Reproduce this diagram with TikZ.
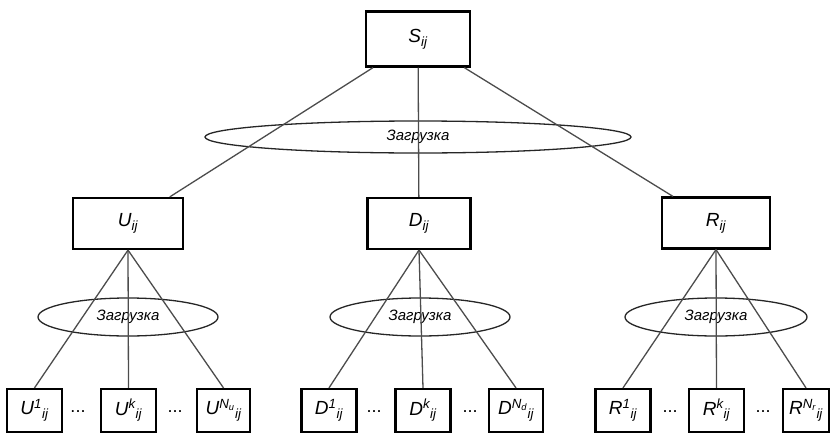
\documentclass[tikz,border=0pt]{standalone}
\usepackage{fontspec}
\setmainfont{Liberation Sans}
\usetikzlibrary{shapes.geometric}
\tikzset{
  lbl/.style={font=\fontsize{19}{19}\selectfont\itshape},
  topbox/.style={draw=black, line width=2.2pt, minimum width=104pt, minimum height=55pt, inner sep=0pt, lbl},
  leaf/.style={draw=black, line width=2.2pt, minimum width=55pt, minimum height=43pt, inner sep=0pt, lbl},
  loadell/.style={ellipse, draw=black!85, line width=1.3pt, inner sep=0pt, font=\fontsize{15}{15}\selectfont\itshape},
  link/.style={draw=black!70, line width=1.3pt},
  dots/.style={font=\fontsize{18}{18}\selectfont, inner sep=0pt}
}
\begin{document}
\begin{tikzpicture}[x=1pt,y=-1pt]
\useasboundingbox (0,0) rectangle (830,434);
% top
\node[topbox] (S) at (418,39) {S\textsubscript{ij}};
% middle
\node[topbox, minimum width=110pt, minimum height=51pt] (U) at (128,223.5) {U\textsubscript{ij}};
\node[topbox, minimum width=103pt, minimum height=51pt] (D) at (419,223.5) {D\textsubscript{ij}};
\node[topbox, minimum width=108pt, minimum height=51pt] (R) at (716,223) {R\textsubscript{ij}};
% ellipses
\node[loadell, minimum width=426pt, minimum height=32pt] (E0) at (418,137) {Загрузка};
\node[loadell, minimum width=180pt, minimum height=38pt] (EU) at (128,317) {Загрузка};
\node[loadell, minimum width=180pt, minimum height=38pt] (ED) at (420,317) {Загрузка};
\node[loadell, minimum width=182pt, minimum height=38pt] (ER) at (716,317) {Загрузка};
% leaves
\node[leaf] (U1) at (34.5,410.5) {U\textsuperscript{1}\textsubscript{ij}};
\node[leaf] (Uk) at (128.5,410.5) {U\textsuperscript{k}\textsubscript{ij}};
\node[leaf, minimum width=53pt] (UN) at (223.5,410.5) {U\textsuperscript{N\textsubscript{u}}\textsubscript{ij}};
\node[leaf] (D1) at (329,410.5) {D\textsuperscript{1}\textsubscript{ij}};
\node[leaf] (Dk) at (423,410.5) {D\textsuperscript{k}\textsubscript{ij}};
\node[leaf, minimum width=54pt] (DN) at (516,410.5) {D\textsuperscript{N\textsubscript{d}}\textsubscript{ij}};
\node[leaf] (R1) at (623,410.5) {R\textsuperscript{1}\textsubscript{ij}};
\node[leaf] (Rk) at (716.5,410.5) {R\textsuperscript{k}\textsubscript{ij}};
\node[leaf, minimum width=46pt] (RN) at (806,410.5) {R\textsuperscript{N\textsubscript{r}}\textsubscript{ij}};
% dots
\node[dots] (d1) at (78,412) {...};
\node[dots] (d2) at (175,412) {...};
\node[dots] (d3) at (374,412) {...};
\node[dots] (d4) at (470,412) {...};
\node[dots] (d5) at (670,412) {...};
\node[dots] (d6) at (763,412) {...};
% links
\draw[link] (S) -- (U);
\draw[link] (S) -- (D);
\draw[link] (S) -- (R);
\foreach \p in {U,D,R}{
  \draw[link] (\p.south) -- (\p1.north);
  \draw[link] (\p.south) -- (\p k.north);
  \draw[link] (\p.south) -- (\p N.north);
}
\end{tikzpicture}
\end{document}
